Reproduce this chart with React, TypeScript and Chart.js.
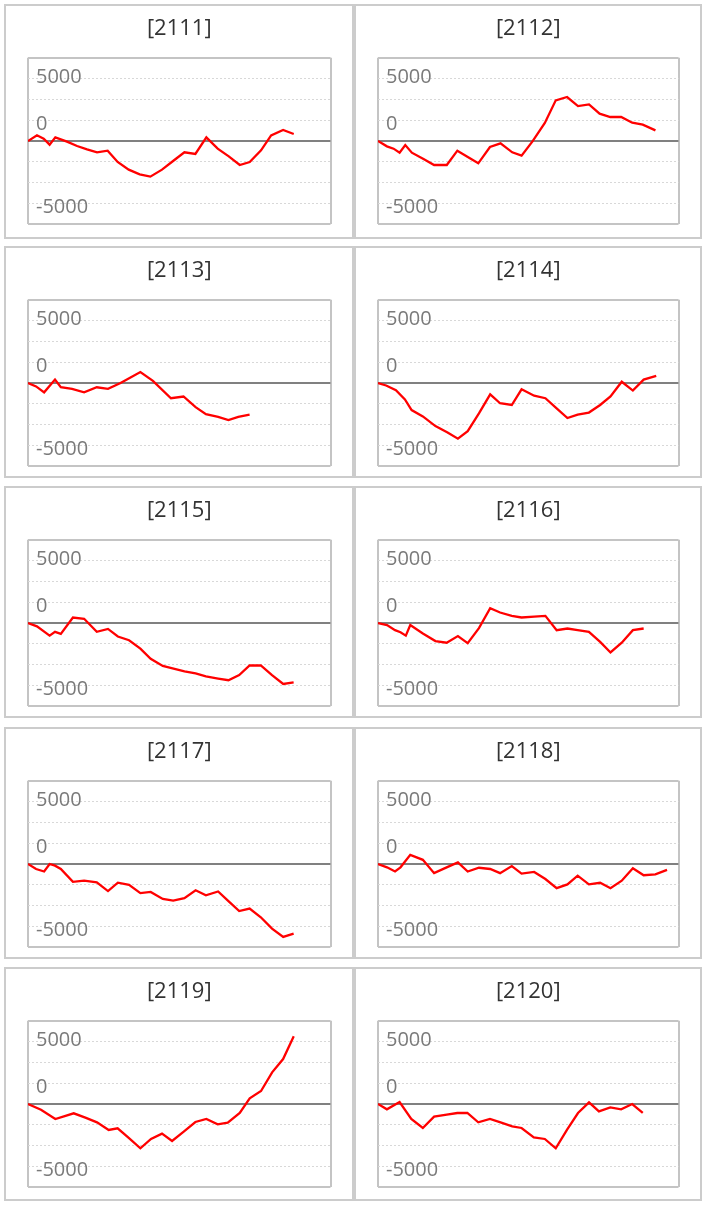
import React, { useEffect, useRef } from "react";
import { Chart, registerables } from "chart.js";

Chart.register(...registerables);

// ---- data (cumulative values, x positions in day-slot units) ----
const CODES = ["2111", "2112", "2113", "2114", "2115", "2116", "2117", "2118", "2119", "2120"];

const X_2111 = [0, 0.8, 1.4, 1.93, 2.44, 3.48, 4.38, 5.27, 6.16, 7.11, 8.0, 8.99, 9.97, 10.92, 11.96, 12.95, 13.96, 14.94, 15.92, 16.93, 17.92, 18.9, 19.79, 20.8, 21.7, 22.77, 23.72];
const Y_2111 = [0, 680, 280, -440, 440, -80, -600, -1000, -1360, -1160, -2520, -3440, -4000, -4280, -3440, -2400, -1360, -1560, 440, -920, -1840, -2880, -2520, -1120, 680, 1320, 840];

const X_2112 = [0, 0.8, 1.4, 1.94, 2.45, 3.04, 4.09, 5.04, 6.18, 7.13, 8.03, 9.01, 10.06, 11.01, 12.06, 12.9, 13.88, 14.99, 15.97, 16.99, 17.97, 18.96, 19.91, 20.87, 21.85, 22.84, 23.79, 24.93];
const Y_2112 = [0, -640, -920, -1400, -480, -1400, -2160, -2880, -2880, -1160, -1880, -2680, -720, -280, -1360, -1760, -40, 2160, 4880, 5280, 4200, 4400, 3280, 2880, 2880, 2200, 1960, 1280];

const X_2113 = [0, 0.72, 1.44, 2.41, 2.93, 3.93, 5.01, 6.14, 7.14, 8.26, 9.15, 10.03, 11.15, 12.76, 13.88, 14.96, 15.88, 16.97, 17.89, 18.77, 19.78];
const Y_2113 = [0, -410, -1120, 410, -510, -710, -1120, -510, -710, 0, 660, 1320, 250, -1830, -1620, -2890, -3750, -4060, -4460, -4060, -3800];

const X_2114 = [0, 0.73, 1.61, 2.42, 3.02, 4.03, 5.16, 6.25, 7.18, 8.06, 9.07, 10.08, 10.97, 12.02, 12.9, 14.03, 15.04, 16.05, 17.02, 17.94, 18.95, 19.96, 20.89, 21.9, 22.9, 23.87, 25.0];
const Y_2114 = [0, -300, -860, -1980, -3250, -4010, -5170, -5930, -6690, -5780, -3650, -1370, -2430, -2640, -760, -1520, -1830, -3040, -4210, -3800, -3550, -2640, -1620, 150, -910, 410, 860];

const X_2115 = [0, 0.8, 1.93, 2.41, 2.93, 4.01, 5.01, 6.14, 7.14, 8.02, 9.02, 10.03, 10.95, 12.03, 13.08, 13.97, 14.96, 15.88, 16.97, 17.89, 18.85, 19.78, 20.78, 21.78, 22.78, 23.71];
const Y_2115 = [0, -400, -1520, -1060, -1310, 660, 510, -1060, -710, -1620, -2070, -3080, -4290, -5150, -5500, -5810, -6060, -6410, -6670, -6870, -6260, -5100, -5100, -6260, -7320, -7120];

const X_2116 = [0, 0.81, 1.53, 2.02, 2.5, 2.9, 4.03, 5.16, 6.17, 7.18, 8.06, 9.07, 10.08, 10.97, 12.02, 12.9, 14.03, 15.04, 16.05, 17.02, 17.94, 18.95, 19.96, 20.89, 21.9, 22.9, 23.87];
const Y_2116 = [0, -250, -860, -1110, -1520, -250, -1260, -2170, -2370, -1570, -2420, -610, 1770, 1260, 860, 660, 760, 860, -860, -660, -860, -1060, -2270, -3540, -2370, -860, -660];

const X_2117 = [0, 0.72, 1.44, 1.93, 2.41, 2.93, 4.01, 5.01, 6.14, 7.14, 8.02, 9.02, 10.03, 10.95, 12.03, 12.96, 13.96, 14.96, 15.88, 16.97, 17.89, 18.85, 19.78, 20.78, 21.78, 22.78, 23.71];
const Y_2117 = [0, -600, -900, 0, -200, -600, -2150, -2000, -2200, -3250, -2250, -2500, -3500, -3350, -4200, -4400, -4100, -3150, -3750, -3300, -4450, -5650, -5350, -6400, -7750, -8750, -8350];

const X_2118 = [0, 0.81, 1.53, 2.02, 2.9, 4.03, 5.04, 6.17, 7.18, 8.06, 9.07, 10.08, 10.97, 12.02, 12.9, 14.03, 15.04, 16.05, 17.02, 17.94, 18.95, 19.96, 20.89, 21.9, 22.9, 23.87, 24.92, 25.97];
const Y_2118 = [0, -400, -900, -400, 1100, 500, -1100, -400, 200, -900, -450, -600, -1100, -250, -1150, -950, -1800, -2900, -2450, -1400, -2450, -2250, -2900, -2000, -500, -1350, -1250, -700];

const X_2119 = [0, 1.16, 2.44, 4.08, 5.12, 6.16, 7.2, 8.0, 8.99, 10.03, 10.98, 11.96, 12.86, 13.9, 14.94, 15.92, 16.93, 17.83, 18.9, 19.79, 20.8, 21.79, 22.77, 23.72];
const Y_2119 = [0, -680, -1800, -1120, -1640, -2200, -3120, -2920, -4080, -5320, -4200, -3560, -4440, -3320, -2160, -1800, -2440, -2240, -1080, 680, 1560, 3800, 5400, 8120];

const X_2120 = [0, 0.8, 1.94, 2.99, 4.03, 5.04, 6.18, 7.13, 8.03, 9.01, 10.06, 11.01, 12.06, 12.9, 14.0, 14.99, 15.97, 16.99, 17.97, 18.96, 19.85, 20.87, 21.85, 22.84, 23.79];
const Y_2120 = [0, -640, 240, -1800, -2880, -1520, -1280, -1080, -1080, -2200, -1800, -2200, -2680, -2880, -4000, -4200, -5320, -3080, -1080, 200, -880, -400, -640, 0, -1080];

const SERIES_X = [X_2111, X_2112, X_2113, X_2114, X_2115, X_2116, X_2117, X_2118, X_2119, X_2120];
const SERIES_Y = [Y_2111, Y_2112, Y_2113, Y_2114, Y_2115, Y_2116, Y_2117, Y_2118, Y_2119, Y_2120];

// axes
const X_MIN = 0;
const X_MAX = 27;
const Y_MIN = -10000;
const Y_MAX = 10000;
const Y_STEP = 2500;
// where the axis texts sit on the value scale, and what they say
const Y_LABEL_VALUES = [7700, 2000, -7960];
const Y_LABEL_TEXTS = ["5000", "0", "-5000"];

// layout
const COL_LEFT = [4, 354];
const COL_WIDTH = [350, 348];
const ROW_TOP = [4, 246, 486, 727, 967];
const ROW_HEIGHT = [235, 232, 232, 232, 234];

function Panel({ code, xs, ys, left, top, width, height }) {
  const ref = useRef(null);
  useEffect(() => {
    const cw = width - 4;
    const ch = height - 4;
    const areaRight = cw - 21.5;
    const areaBottom = 218.3;
    const chart = new Chart(ref.current, {
      type: "line",
      data: {
        datasets: [
          {
            data: xs.map((x, i) => ({ x, y: ys[i] })),
            borderColor: "#ff0000",
            borderWidth: 2.3,
            pointRadius: 0,
            tension: 0,
            fill: false,
          },
        ],
      },
      options: {
        animation: false,
        responsive: false,
        maintainAspectRatio: false,
        events: [],
        layout: { padding: { left: 22, right: cw - areaRight, top: 0, bottom: ch - areaBottom } },
        plugins: {
          legend: { display: false },
          tooltip: { enabled: false },
          title: {
            display: true,
            text: `[${code}]`,
            color: "#333333",
            font: { family: "'Open Sans'", size: 22, weight: "normal", lineHeight: 1.2 },
            padding: { top: 9.8, bottom: 15.5 },
          },
        },
        scales: {
          x: {
            type: "linear",
            min: X_MIN,
            max: X_MAX,
            afterBuildTicks: (s) => {
              s.ticks = [{ value: X_MIN }, { value: X_MAX }];
            },
            afterFit: (s) => {
              s.height = 0;
              s.paddingLeft = 0;
              s.paddingRight = 0;
            },
            ticks: { display: false },
            grid: { color: "#c4c4c4", lineWidth: 2, drawTicks: false },
            border: { display: false },
          },
          y: {
            type: "linear",
            min: Y_MIN,
            max: Y_MAX,
            afterBuildTicks: (s) => {
              const t = [];
              for (let v = Y_MIN; v <= Y_MAX; v += Y_STEP) t.push({ value: v, grid: true });
              Y_LABEL_VALUES.forEach((v) => t.push({ value: v, grid: false }));
              t.sort((a, b) => a.value - b.value);
              s.ticks = t;
            },
            afterFit: (s) => {
              s.width = 0;
              s.paddingTop = 0;
              s.paddingBottom = 0;
            },
            ticks: {
              mirror: true,
              padding: 8,
              autoSkip: false,
              color: "#7a7a7a",
              font: { family: "'Open Sans'", size: 20 },
              callback: (v) => {
                const i = Y_LABEL_VALUES.indexOf(Number(v));
                return i >= 0 ? Y_LABEL_TEXTS[i] : "";
              },
            },
            grid: {
              drawTicks: false,
              color: (c) => {
                const t = c.tick;
                if (!t || t.grid === false) return "rgba(0,0,0,0)";
                const v = t.value;
                if (v === Y_MIN || v === Y_MAX) return "#c4c4c4";
                if (v === 0) return "#808080";
                return "#d8d8d8";
              },
              lineWidth: (c) => {
                const t = c.tick;
                if (!t || t.grid === false) return 0;
                const v = t.value;
                if (v === Y_MIN || v === Y_MAX || v === 0) return 2;
                return 1;
              },
            },
            border: {
              display: false,
              dash: (c) => {
                const v = c.tick ? c.tick.value : 0;
                if (v === Y_MIN || v === Y_MAX || v === 0) return [];
                return [2, 2];
              },
            },
          },
        },
      },
    });
    return () => chart.destroy();
  }, []);
  return (
    <div
      style={{
        position: "absolute",
        left,
        top,
        width,
        height,
        boxSizing: "border-box",
        border: "2px solid #cccccc",
        background: "#ffffff",
      }}
    >
      <canvas
        ref={ref}
        width={width - 4}
        height={height - 4}
        style={{ display: "block", width: width - 4, height: height - 4 }}
      />
    </div>
  );
}

export default function App() {
  return (
    <div style={{ position: "absolute", left: 0, top: 0, width: 705, height: 1205, background: "#ffffff" }}>
      {CODES.map((code, i) => {
        const r = Math.floor(i / 2);
        const c = i % 2;
        return (
          <Panel
            key={code}
            code={code}
            xs={SERIES_X[i]}
            ys={SERIES_Y[i]}
            left={COL_LEFT[c]}
            top={ROW_TOP[r]}
            width={COL_WIDTH[c]}
            height={ROW_HEIGHT[r]}
          />
        );
      })}
    </div>
  );
}
